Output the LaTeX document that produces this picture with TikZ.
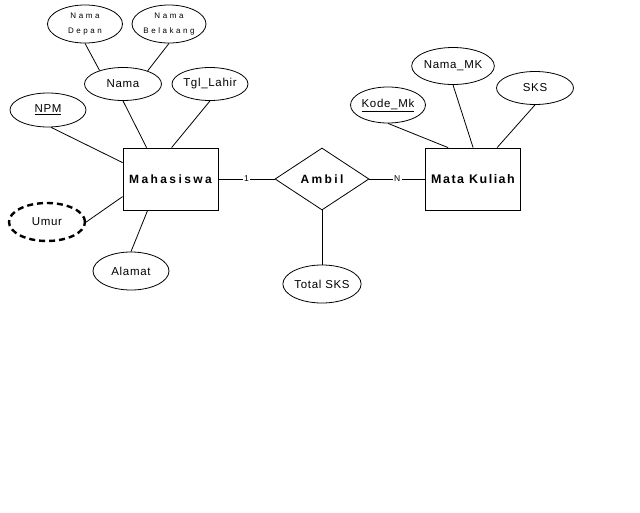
\documentclass[tikz,border=0pt]{standalone}
\usepackage{fontspec}
\setmainfont{Liberation Sans}
\usetikzlibrary{shapes.geometric}
\tikzset{
  attr/.style={draw, ellipse, inner sep=0pt, line width=0.8pt, font=\fontsize{11.5}{13}\selectfont\addfontfeature{LetterSpace=6}},
  smallattr/.style={draw, ellipse, inner sep=0pt, line width=0.8pt, align=center, font=\fontsize{8}{15}\selectfont\addfontfeature{LetterSpace=32}},
  entity/.style={draw, rectangle, inner sep=0pt, line width=0.8pt, minimum width=95pt, minimum height=62pt},
  rel/.style={draw, diamond, inner sep=0pt, line width=0.8pt, minimum width=94pt, minimum height=62pt, aspect=1.5},
  conn/.style={line width=0.8pt},
  card/.style={fill=white, inner sep=1.5pt, font=\fontsize{8.5}{9}\selectfont}
}
\begin{document}
\begin{tikzpicture}[x=1pt,y=-1pt]
\useasboundingbox (0,0) rectangle (640,512);
\fill[white] (0,0) rectangle (640,512);

% entities and relationship
\node[entity, font=\fontsize{12}{14}\selectfont\bfseries\addfontfeature{LetterSpace=20}] (mhs) at (170.5,179) {Mahasiswa};
\node[entity, font=\fontsize{12.5}{14}\selectfont\bfseries\addfontfeature{LetterSpace=12}] (mk) at (473,179) {Mata Kuliah};
\node[rel, font=\fontsize{12}{14}\selectfont\bfseries\addfontfeature{LetterSpace=20}] (ambil) at (322,179) {Ambil};

% attributes of Mahasiswa
\node[smallattr, minimum width=75pt, minimum height=38pt] (nd) at (85,24) {Nama\\Depan};
\node[smallattr, minimum width=74pt, minimum height=38pt] (nb) at (169,24) {Nama\\Belakang};
\node[attr, minimum width=77pt, minimum height=33pt] (nama) at (123,84) {Nama};
\node[attr, minimum width=76pt, minimum height=33pt] (tgl) at (210,84) {Tgl\_Lahir};
\node[attr, minimum width=76pt, minimum height=34pt] (npm) at (48,110) {\underline{NPM}};
\node[attr, minimum width=76pt, minimum height=38pt, dashed, line width=2.4pt, dash pattern=on 6pt off 4pt] (umur) at (47,222) {Umur};
\node[attr, minimum width=76pt, minimum height=38pt] (alamat) at (131,271) {Alamat};

% attribute of Ambil
\node[attr, minimum width=78pt, minimum height=38pt] (total) at (322,284) {Total SKS};

% attributes of Mata Kuliah
\node[attr, minimum width=75pt, minimum height=36pt] (kode) at (388,105) {\underline{Kode\_Mk}};
\node[attr, minimum width=76pt, minimum height=37pt] (namamk) at (453,66) {Nama\_MK};
\node[attr, minimum width=77pt, minimum height=33pt] (sks) at (535,88) {SKS};

% connectors
\draw[conn] (nd.south) -- (nama.150);
\draw[conn] (nb.south) -- (nama.28);
\draw[conn] (nama.south) -- ([xshift=24pt]mhs.north west);
\draw[conn] (tgl.south) -- ([xshift=49pt]mhs.north west);
\draw[conn] (npm.-80) -- ([yshift=-15pt]mhs.north west);
\draw[conn] (umur.east) -- ([yshift=-49pt]mhs.north west);
\draw[conn] (alamat.north) -- ([xshift=25pt]mhs.south west);
\draw[conn] (ambil.south) -- (total.north);
\draw[conn] (mhs.east) -- node[card] {1} (ambil.west);
\draw[conn] (ambil.east) -- node[card] {N} (mk.west);
\draw[conn] (kode.south) -- ([xshift=23pt]mk.north west);
\draw[conn] (namamk.south) -- ([xshift=48pt]mk.north west);
\draw[conn] (sks.south) -- ([xshift=72pt]mk.north west);
\end{tikzpicture}
\end{document}
